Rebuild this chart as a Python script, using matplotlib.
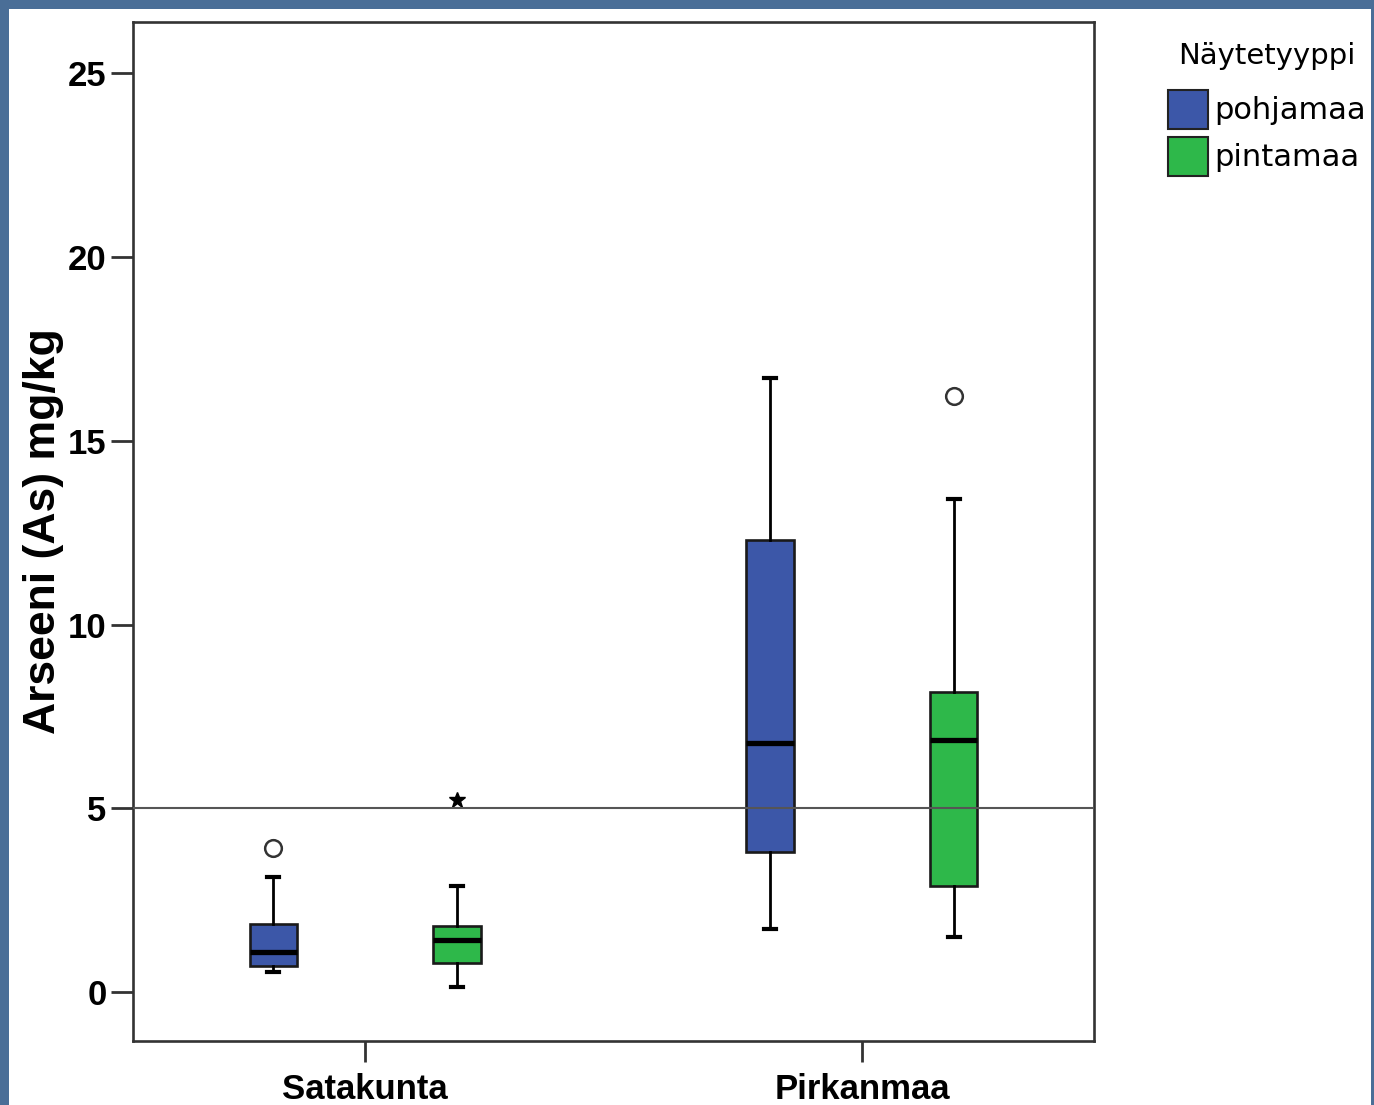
import matplotlib
matplotlib.use("Agg")
import matplotlib.pyplot as plt
from matplotlib.patches import Rectangle, Patch

# ---- data ----
regions = ["Satakunta", "Pirkanmaa"]
sample_types = ["pohjamaa", "pintamaa"]
# per region, per sample type
whislo = [[0.54, 0.14], [1.71, 1.50]]
q1 = [[0.71, 0.79], [3.81, 2.88]]
med = [[1.09, 1.41], [6.77, 6.86]]
q3 = [[1.85, 1.80], [12.30, 8.16]]
whishi = [[3.13, 2.88], [16.70, 13.41]]
outliers = [[[3.92], []], [[], [16.21]]]
extremes = [[[], [5.22]], [[], []]]
reference_level = 5.0
yticks = [0, 5, 10, 15, 20, 25]
colors = ["#3C57A8", "#2EB84A"]

fig = plt.figure(figsize=(13.74, 11.05), dpi=100)
fig.patch.set_facecolor("#4A6E97")
fig.patches.append(Rectangle((9 / 1374, 0), (1371 - 9) / 1374, 1 - 9 / 1105,
                             transform=fig.transFigure, facecolor="white",
                             edgecolor="none", zorder=-10))

ax = fig.add_axes([133 / 1374, 1 - 1041 / 1105, (1094 - 133) / 1374, (1041 - 22) / 1105])
ax.set_zorder(1)

offset = 0.185
width = 0.095
for gi, reg in enumerate(regions):
    for si, st in enumerate(sample_types):
        pos = gi + (si - 0.5) * 2 * offset
        stats = [dict(whislo=whislo[gi][si], q1=q1[gi][si], med=med[gi][si],
                      q3=q3[gi][si], whishi=whishi[gi][si],
                      fliers=outliers[gi][si], label=st)]
        ax.bxp(stats, positions=[pos], widths=width, capwidths=0.024,
               patch_artist=True, manage_ticks=False,
               boxprops=dict(facecolor=colors[si], edgecolor="#1a1a1a", linewidth=1.9),
               medianprops=dict(color="black", linewidth=3.8, solid_capstyle="butt"),
               whiskerprops=dict(color="black", linewidth=2.0),
               capprops=dict(color="black", linewidth=3.0),
               flierprops=dict(marker="o", markersize=12, markerfacecolor="white",
                               markeredgecolor="#333333", markeredgewidth=1.8))
        if extremes[gi][si]:
            ax.plot([pos] * len(extremes[gi][si]), extremes[gi][si], linestyle="none",
                    marker="*", markersize=12, color="black", zorder=5)

ax.axhline(reference_level, color="#555555", linewidth=1.5, zorder=6)

ax.set_xlim(-0.467, 1.467)
ax.set_ylim(-1.33, 26.39)
ax.set_xticks(range(len(regions)))
ax.set_xticklabels(regions)
ax.set_yticks(yticks)
ax.set_yticklabels([str(t) for t in yticks])

for s in ax.spines.values():
    s.set_color("#333333")
    s.set_linewidth(1.9)

ax.tick_params(axis="y", length=16, width=2.0, pad=3, labelsize=25, color="#333333")
ax.tick_params(axis="x", length=15, width=2.0, pad=8, labelsize=25, color="#333333")
for lab in ax.get_xticklabels() + ax.get_yticklabels():
    lab.set_fontweight("bold")
    lab.set_family("Liberation Sans")

ax.set_ylabel("Arseeni (As) mg/kg", fontsize=32, fontweight="bold", family="Liberation Sans")
ax.yaxis.set_label_coords(-0.072, 0.5)

handles = [Patch(facecolor=colors[i], edgecolor="#222222", linewidth=1.5, label=sample_types[i])
           for i in range(len(sample_types))]
leg = fig.legend(handles=handles, title="Näytetyyppi", loc="upper left",
                 bbox_to_anchor=(1156 / 1374, 1 - 30 / 1105), frameon=False,
                 fontsize=22, title_fontsize=21, handlelength=1.3, handleheight=1.6,
                 handletextpad=0.22, labelspacing=0.25, borderaxespad=0)
leg._legend_box.align = "center"
leg._legend_box.sep = 14

fig.savefig("out.png", dpi=100, facecolor=fig.get_facecolor())
